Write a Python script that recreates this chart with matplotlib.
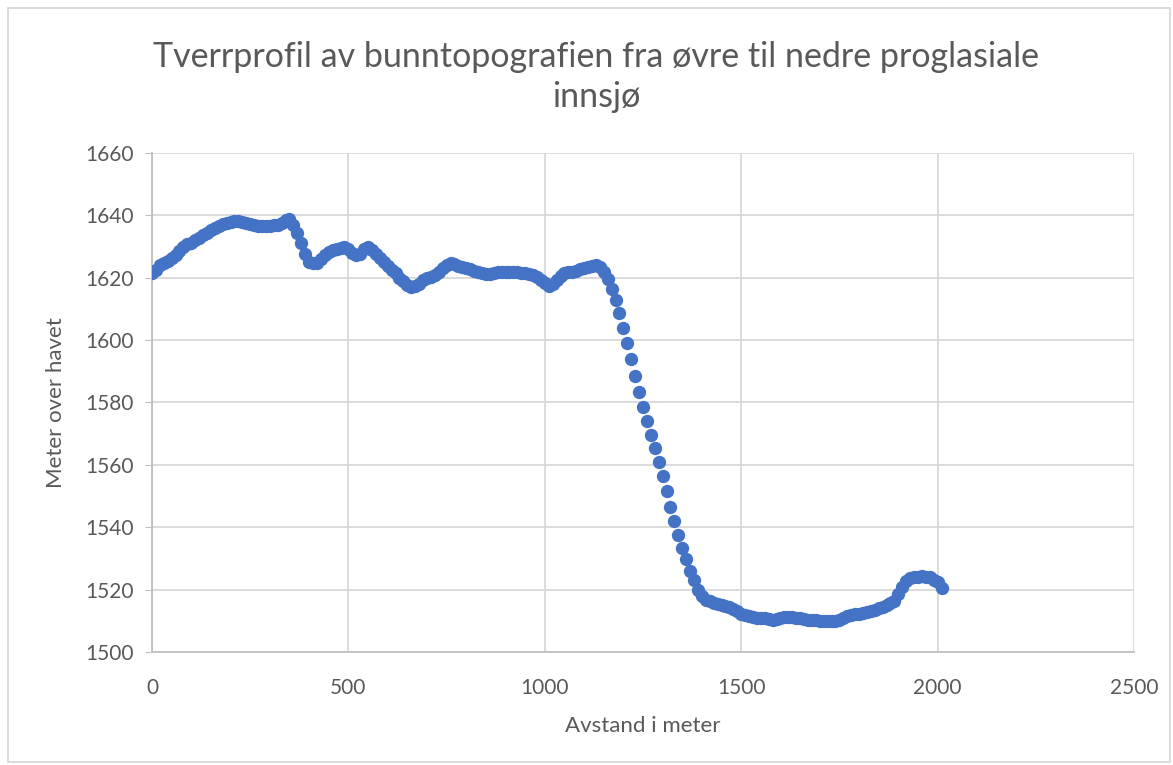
import numpy as np
import matplotlib
matplotlib.use("Agg")
import matplotlib.pyplot as plt
from matplotlib.patches import Rectangle

STEP_M = 10
elevation = [
    1621.4, 1622.5, 1624.0, 1624.8, 1625.4, 1626.2, 1627.2, 1628.6, 1630.0, 1630.7,
    1631.3, 1632.0, 1632.8, 1633.6, 1634.4, 1635.2, 1636.0, 1636.7, 1637.3, 1637.7,
    1638.0, 1638.2, 1638.2, 1638.0, 1637.6, 1637.2, 1636.8, 1636.6, 1636.5, 1636.5,
    1636.6, 1636.8, 1637.0, 1637.6, 1638.6, 1638.8, 1636.8, 1634.5, 1631.0, 1627.5,
    1625.2, 1624.6, 1624.8, 1626.0, 1627.4, 1628.4, 1629.0, 1629.3, 1629.6, 1629.8,
    1629.2, 1628.0, 1627.3, 1627.6, 1629.2, 1630.0, 1628.8, 1627.6, 1626.4, 1625.0,
    1623.8, 1622.6, 1621.5, 1620.0, 1618.8, 1617.6, 1617.0, 1617.2, 1618.0, 1619.2,
    1620.0, 1620.4, 1621.0, 1622.0, 1623.0, 1624.0, 1624.6, 1624.3, 1623.9, 1623.5,
    1623.1, 1622.7, 1622.3, 1621.9, 1621.5, 1621.2, 1621.2, 1621.4, 1621.7, 1622.0,
    1622.0, 1622.0, 1621.9, 1621.8, 1621.6, 1621.4, 1621.2, 1620.9, 1620.4, 1619.4,
    1618.2, 1617.4, 1618.0, 1619.3, 1620.5, 1621.4, 1621.8, 1622.0, 1622.2, 1622.7,
    1623.2, 1623.6, 1623.9, 1624.0, 1623.6, 1622.0, 1619.5, 1616.5, 1613.0, 1608.8,
    1604.0, 1599.0, 1594.0, 1588.5, 1583.4, 1578.5, 1574.0, 1569.5, 1565.5, 1561.0,
    1556.5, 1551.5, 1546.5, 1542.0, 1537.5, 1533.5, 1529.8, 1526.0, 1523.0, 1520.0,
    1518.0, 1516.8, 1516.2, 1515.7, 1515.4, 1515.1, 1514.8, 1514.4, 1513.8, 1513.0,
    1512.3, 1511.8, 1511.4, 1511.2, 1511.0, 1510.9, 1510.8, 1510.6, 1510.4, 1510.6,
    1510.9, 1511.1, 1511.2, 1511.1, 1511.0, 1510.8, 1510.6, 1510.4, 1510.3, 1510.2,
    1510.1, 1510.0, 1509.9, 1509.8, 1509.9, 1510.3, 1511.0, 1511.6, 1512.0, 1512.2,
    1512.3, 1512.5, 1512.8, 1513.1, 1513.5, 1514.0, 1514.5, 1515.0, 1515.6, 1516.5,
    1518.5, 1521.0, 1522.8, 1523.6, 1524.0, 1524.2, 1524.3, 1524.2, 1523.9, 1523.2,
    1522.3, 1520.5,
]
distance = np.arange(len(elevation)) * STEP_M

x_ticks = [0, 500, 1000, 1500, 2000, 2500]
y_ticks = [1500, 1520, 1540, 1560, 1580, 1600, 1620, 1640, 1660]

plt.rcParams['font.family'] = ['Lato', 'DejaVu Sans']
text_col = '#595959'
grid_col = '#D9D9D9'

fig = plt.figure(figsize=(11.73, 7.65), dpi=100)
ax = fig.add_axes([152/1173, 1 - 652/765, (1134-152)/1173, (652-153)/765])

ax.scatter(distance, elevation, s=92, color='#4472C4', zorder=3, linewidths=0)

ax.set_xlim(0, 2500)
ax.set_ylim(1500, 1660)
ax.set_xticks(x_ticks)
ax.set_yticks(y_ticks)
ax.grid(True, color=grid_col, linewidth=1.3)
ax.set_axisbelow(True)
for side in ['top', 'right']:
    ax.spines[side].set_visible(False)
for side in ['left', 'bottom']:
    ax.spines[side].set_color('#BFBFBF')
    ax.spines[side].set_linewidth(1.3)
ax.tick_params(axis='y', length=5, color='#BFBFBF', labelsize=15, labelcolor=text_col, pad=8)
ax.tick_params(axis='x', length=0, labelsize=15, labelcolor=text_col, pad=19)

ax.set_xlabel('Avstand i meter', fontsize=16, color=text_col, labelpad=13)
ax.set_ylabel('Meter over havet', fontsize=16, color=text_col, labelpad=14)

fig.text(0.508, 1 - 77/765, 'Tverrprofil av bunntopografien fra øvre til nedre proglasiale\ninnsjø',
         ha='center', va='center', fontsize=24.5, color=text_col, linespacing=1.3)

# chart area border
fig.patches.append(Rectangle((8/1173, 1 - 762/765), (1170-8)/1173, (762-8)/765,
                             transform=fig.transFigure, fill=False,
                             edgecolor=grid_col, linewidth=1.3))

fig.savefig('out.png', dpi=100)
